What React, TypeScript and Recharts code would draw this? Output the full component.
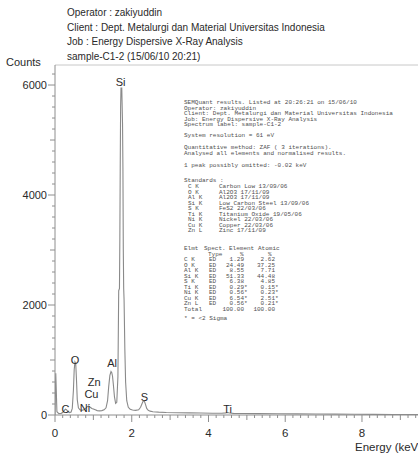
import React from 'react';
import { ComposedChart, Line, XAxis, YAxis, ReferenceDot, ReferenceLine } from 'recharts';

// Spectrum (energy in keV, counts)
const energy = [
  0.0, 0.02, 0.05, 0.1, 0.16, 0.2, 0.24, 0.27, 0.3, 0.34, 0.38, 0.42, 0.45, 0.48, 0.5, 0.52, 0.54, 0.56, 0.58, 0.61, 0.65,
  0.7, 0.75, 0.8, 0.84, 0.88, 0.92, 0.96, 1.0, 1.05, 1.1, 1.16, 1.22, 1.28, 1.33, 1.37, 1.4, 1.43, 1.46, 1.48, 1.5, 1.52,
  1.55, 1.58, 1.61, 1.64, 1.66, 1.68, 1.69, 1.7, 1.71, 1.72, 1.74, 1.76, 1.77, 1.78, 1.79, 1.8, 1.82, 1.84, 1.87, 1.91,
  1.96, 2.02, 2.1, 2.18, 2.23, 2.27, 2.3, 2.33, 2.36, 2.39, 2.43, 2.48, 2.55, 2.7, 2.9, 3.2, 3.5, 3.8, 4.1, 4.35, 4.45,
  4.5, 4.55, 4.65, 4.9, 5.3, 5.8, 6.3, 6.8, 7.3, 7.8, 8.3, 8.8, 9.46,
];
const counts = [
  0, 760, 60, 25, 30, 45, 80, 105, 95, 60, 45, 55, 120, 450, 820, 965, 940, 640, 280, 130, 95,
  85, 95, 120, 150, 165, 140, 120, 110, 95, 80, 75, 80, 95, 130, 260, 520, 720, 790, 770, 700, 560,
  330, 210, 230, 700, 2260, 2300, 3200, 4500, 5600, 5945, 5945, 5300, 4500, 3000, 2300, 2100, 1200, 600, 260, 140,
  105, 90, 85, 95, 140, 210, 255, 250, 190, 120, 85, 70, 60, 52, 46, 42, 38, 36, 33, 32, 38,
  44, 36, 30, 28, 25, 22, 20, 18, 16, 14, 12, 10, 8,
];

// Peak labels
const peakNames = ['C', 'O', 'Ni', 'Cu', 'Zn', 'Al', 'Si', 'S', 'Ti'];
const peakLabelEnergy = [0.27, 0.52, 0.78, 0.95, 1.02, 1.49, 1.71, 2.33, 4.5];
const peakLabelCounts = [110, 1000, 133, 376, 600, 951, 6055, 333, 105];

// Axis ticks
const xMajorTicks = [0, 2, 4, 6, 8];
const yMajorTicks = [0, 2000, 4000, 6000];
const X_MAX = 9.46;
const Y_MAX = 6364;
const xMinorTicks = Array.from({ length: 48 }, (_, i) => Math.round(i * 2) / 10);
const yMinorTicks = Array.from({ length: 32 }, (_, i) => i * 200);

// Header text
const headerLines = [
  'Operator : zakiyuddin',
  'Client : Dept. Metalurgi dan Material Universitas Indonesia',
  'Job : Energy Dispersive X-Ray Analysis',
  'sample-C1-2 (15/06/10 20:21)',
];

// Report block
const reportLines = [
  'SEMQuant results. Listed at 20:26:21 on 15/06/10',
  'Operator: zakiyuddin',
  'Client: Dept. Metalurgi dan Material Universitas Indonesia',
  'Job: Energy Dispersive X-Ray Analysis',
  'Spectrum label: sample-C1-2',
  'System resolution =  61 eV',
  'Quantitative method: ZAF ( 3 iterations).',
  ' Analysed all elements and normalised results.',
  ' 1 peak possibly omitted: -0.02 keV',
  'Standards :',
];
const reportLineY = [102, 107.5, 113, 118.5, 124, 135, 147, 152.5, 165, 180];

const stdElements = ['C  K', 'O  K', 'Al K', 'Si K', 'S  K', 'Ti K', 'Ni K', 'Cu K', 'Zn L'];
const stdNames = [
  'Carbon Low 13/09/06',
  'Al2O3 17/11/09',
  'Al2O3 17/11/09',
  'Low Carbon Steel 13/09/06',
  'FeS2 22/03/06',
  'Titanium Oxide 19/05/06',
  'Nickel 22/03/06',
  'Copper 22/03/06',
  'Zinc 17/11/09',
];

const tableElements = ['C  K', 'O  K', 'Al K', 'Si K', 'S  K', 'Ti K', 'Ni K', 'Cu K', 'Zn L', 'Total'];
const tableType = ['ED', 'ED', 'ED', 'ED', 'ED', 'ED', 'ED', 'ED', 'ED', ''];
const tableWeight = ['1.29', '24.49', '8.55', '51.33', '6.38', '0.29', '0.56', '6.54', '0.56', '100.00'];
const tableAtomic = ['2.62', '37.25', '7.71', '44.48', '4.85', '0.15', '0.23', '2.51', '0.21', '100.00'];
const tableStar = [false, false, false, false, false, true, true, true, true, false];

const data = energy.map((e, i) => ({ e, c: counts[i] }));

const AXIS = '#8e8e8e';
const TXT = '#2a2a2a';
const SANS = '"Liberation Sans", Arial, sans-serif';
const MONO = '"Liberation Mono", "DejaVu Sans Mono", monospace';

const XTick = (props: any) => {
  const { x, y, payload } = props;
  const v = Math.round(payload.value * 10) / 10;
  const major = xMajorTicks.includes(v);
  const medium = !major && Math.abs(v - Math.round(v)) < 1e-6;
  const len = major ? 7 : medium ? 5 : 3;
  return (
    <g>
      <line x1={x} y1={y} x2={x} y2={y + len} stroke={AXIS} strokeWidth={1} />
      {major && (
        <text x={x} y={y + 22} textAnchor="middle" fontSize={11.5} fontFamily={SANS} fill={TXT}>
          {v}
        </text>
      )}
    </g>
  );
};

const YTick = (props: any) => {
  const { x, y, payload } = props;
  const v = Math.round(payload.value);
  const major = yMajorTicks.includes(v);
  const medium = !major && v % 1000 === 0;
  const len = major ? 7 : medium ? 5 : 3;
  return (
    <g>
      <line x1={x} y1={y} x2={x - len} y2={y} stroke={AXIS} strokeWidth={1} />
      {major && (
        <text x={x - 8} y={y + 4} textAnchor="end" fontSize={11} fontFamily={SANS} fill={TXT}>
          {v}
        </text>
      )}
    </g>
  );
};

const PeakLabel = (props: any) => {
  const { viewBox, value } = props;
  const cx = viewBox.x + (viewBox.width || 0) / 2;
  const cy = viewBox.y + (viewBox.height || 0) / 2;
  return (
    <text x={cx} y={cy + 4} textAnchor="middle" fontSize={11} fontFamily={SANS} fill={TXT}>
      {value}
    </text>
  );
};

export default function App() {
  return (
    <div style={{ position: 'absolute', left: 0, top: 0, width: 418, height: 459, background: '#fff', overflow: 'hidden' }}>
      <ComposedChart
        width={418}
        height={459}
        data={data}
        margin={{ top: 65, right: 0, bottom: 14, left: 0 }}
      >
        <XAxis
          dataKey="e"
          type="number"
          domain={[0, X_MAX]}
          ticks={xMinorTicks}
          interval={0}
          allowDataOverflow
          height={30}
          tickSize={0}
          tickMargin={0}
          tickLine={false}
          axisLine={{ stroke: AXIS }}
          tick={<XTick />}
        />
        <YAxis
          type="number"
          domain={[0, Y_MAX]}
          ticks={yMinorTicks}
          interval={0}
          allowDataOverflow
          width={55}
          tickSize={0}
          tickMargin={0}
          tickLine={false}
          axisLine={{ stroke: AXIS }}
          tick={<YTick />}
        />
        <ReferenceLine y={Y_MAX} stroke="#c8c8c8" ifOverflow="extendDomain" />
        <Line
          dataKey="c"
          type="linear"
          stroke="#8a8a8a"
          strokeWidth={1.1}
          dot={false}
          isAnimationActive={false}
        />
        {peakNames.map((n, i) => (
          <ReferenceDot
            key={n}
            x={peakLabelEnergy[i]}
            y={peakLabelCounts[i]}
            r={0}
            fill="none"
            stroke="none"
            label={<PeakLabel value={n} />}
          />
        ))}
      </ComposedChart>
      <svg
        width={418}
        height={459}
        style={{ position: 'absolute', left: 0, top: 0, pointerEvents: 'none' }}
      >
        {headerLines.map((t, i) => (
          <text key={t} x={67} y={16 + i * 14.5} fontSize={10} fontFamily={SANS} fill={TXT}>
            {t}
          </text>
        ))}
        <text x={6} y={66} fontSize={11} fontFamily={SANS} fill={TXT}>
          Counts
        </text>
        <text x={355} y={451} fontSize={11.5} fontFamily={SANS} fill={TXT}>
          Energy (keV)
        </text>
        <g fontFamily={MONO} fontSize={6} fill="#505050" style={{ whiteSpace: 'pre' }}>
          {reportLines.map((t, i) => (
            <text key={i} x={184} y={reportLineY[i] + 2}>
              {t}
            </text>
          ))}
          {stdElements.map((t, i) => (
            <g key={'s' + i}>
              <text x={188} y={186 + i * 5.5 + 2}>{t}</text>
              <text x={219} y={186 + i * 5.5 + 2}>{stdNames[i]}</text>
            </g>
          ))}
          <text x={184} y={250}>Elmt</text>
          <text x={204} y={250}>Spect.</text>
          <text x={229} y={250}>Element</text>
          <text x={258} y={250}>Atomic</text>
          <text x={208} y={255.5}>Type</text>
          <text x={240} y={255.5}>%</text>
          <text x={268} y={255.5}>%</text>
          {tableElements.map((t, i) => {
            const y = 261 + i * 5.5;
            return (
              <g key={'t' + i}>
                <text x={184} y={y}>{t}</text>
                <text x={209} y={y}>{tableType[i]}</text>
                <text x={244} y={y} textAnchor="end">{tableWeight[i]}</text>
                <text x={275} y={y} textAnchor="end">{tableAtomic[i]}</text>
                {tableStar[i] && <text x={244} y={y}>*</text>}
                {tableStar[i] && <text x={275} y={y}>*</text>}
              </g>
            );
          })}
          <text x={184} y={320}>* = &lt;2 Sigma</text>
        </g>
      </svg>
    </div>
  );
}
